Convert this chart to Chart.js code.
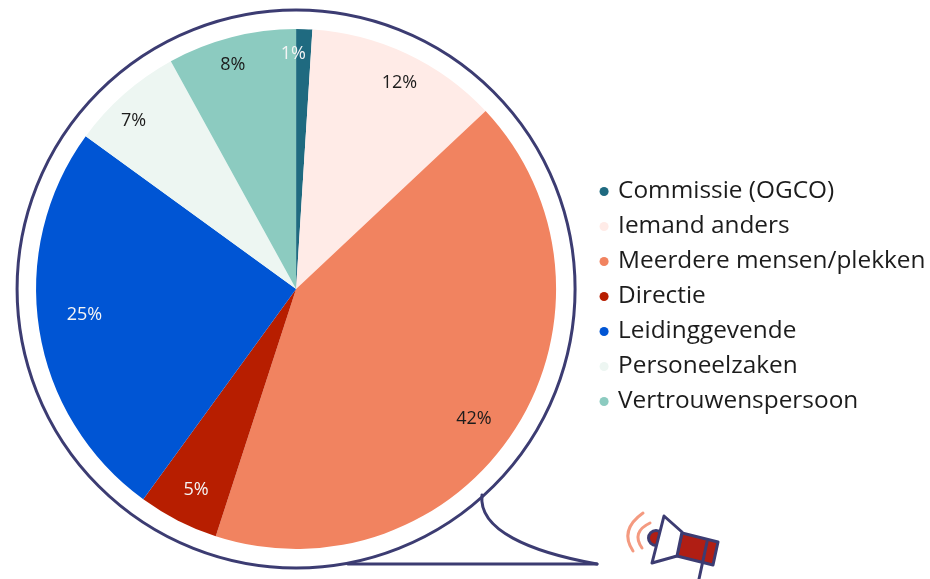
<!DOCTYPE html>
<html>
<head>
<meta charset="utf-8">
<title>Pie chart</title>
<script src="https://cdn.jsdelivr.net/npm/chart.js@4"></script>
<style>
    html, body { margin: 0; padding: 0; background: #fff; }
    canvas { display: block; }
</style>
</head>
<body>
<canvas id="pieChart" width="930" height="579"></canvas>
<script>
const categories = ['Commissie (OGCO)', 'Iemand anders', 'Meerdere mensen/plekken', 'Directie', 'Leidinggevende', 'Personeelzaken', 'Vertrouwenspersoon'];
const percentages = [1, 12, 42, 5, 25, 7, 8];
const sliceColors = ['#1f6a80', '#ffebe7', '#f18360', '#b71e00', '#0055d4', '#edf6f2', '#8ccbc0'];
const labelColors = ['#f4f4f4', '#1c1c1c', '#1c1c1c', '#f4f4f4', '#f4f4f4', '#1c1c1c', '#1c1c1c'];

// labels in the picture don't sit exactly mid slice, so nudge them a bit
const labelRadius = [0.904, 0.888, 0.848, 0.862, 0.82, 0.90, 0.895];
const labelTurn = [-2.5, 1.4, 3.8, -0.5, 2, -2.6, -1.4];

const NAVY = '#3c3c72';
const FONT = '"Open Sans", sans-serif';

const pieLabels = {
    id: 'pieLabels',
    afterDatasetsDraw(chart) {
        const ctx = chart.ctx;
        ctx.save();
        ctx.font = '18px ' + FONT;
        ctx.textAlign = 'center';
        ctx.textBaseline = 'middle';
        chart.getDatasetMeta(0).data.forEach((arc, i) => {
            const angle = (arc.startAngle + arc.endAngle) / 2 + labelTurn[i] * Math.PI / 180;
            const r = arc.outerRadius * labelRadius[i];
            ctx.fillStyle = labelColors[i];
            ctx.fillText(percentages[i] + '%', arc.x + Math.cos(angle) * r, arc.y + Math.sin(angle) * r);
        });
        ctx.restore();
    }
};

// outer ring, speech bubble tail and the little megaphone
const bubble = {
    id: 'bubble',
    afterDraw(chart) {
        const ctx = chart.ctx;
        const arc = chart.getDatasetMeta(0).data[0];
        ctx.save();
        ctx.lineCap = 'round';
        ctx.lineJoin = 'round';
        ctx.strokeStyle = NAVY;
        ctx.lineWidth = 3;
        ctx.beginPath();
        ctx.arc(arc.x, arc.y, arc.outerRadius + 19, 0, Math.PI * 2);
        ctx.stroke();

        ctx.beginPath();
        ctx.moveTo(348, 564);
        ctx.lineTo(597, 564);
        ctx.stroke();
        ctx.beginPath();
        ctx.moveTo(482, 495);
        ctx.bezierCurveTo(478, 530, 530, 552, 597, 564);
        ctx.stroke();

        // sound waves
        ctx.strokeStyle = '#f49a80';
        ctx.beginPath();
        ctx.moveTo(643, 513);
        ctx.quadraticCurveTo(619, 530, 633, 551);
        ctx.stroke();
        ctx.beginPath();
        ctx.moveTo(650, 523);
        ctx.quadraticCurveTo(631, 532, 642, 548);
        ctx.stroke();

        // megaphone
        ctx.strokeStyle = NAVY;
        ctx.fillStyle = '#b01e14';
        ctx.beginPath();
        ctx.arc(656, 538, 7.5, 0, Math.PI * 2);
        ctx.fill();
        ctx.stroke();
        ctx.beginPath();
        ctx.moveTo(682, 533);
        ctx.lineTo(718, 542);
        ctx.lineTo(713, 565);
        ctx.lineTo(677, 556);
        ctx.closePath();
        ctx.fill();
        ctx.stroke();
        ctx.fillStyle = '#fff';
        ctx.beginPath();
        ctx.moveTo(664, 516);
        ctx.lineTo(682, 532);
        ctx.lineTo(677, 556);
        ctx.lineTo(652, 563);
        ctx.closePath();
        ctx.fill();
        ctx.stroke();
        ctx.beginPath();
        ctx.moveTo(707, 542);
        ctx.lineTo(699, 579);
        ctx.stroke();
        ctx.restore();
    }
};

// legend sits a bit lower and further right than the layout would put it
const legendShift = {
    id: 'legendShift',
    afterLayout(chart) {
        chart.legend.top += 7.5;
        chart.legend.bottom += 7.5;
        chart.legend.left += 5.5;
        chart.legend.right += 5.5;
    }
};

new Chart(document.getElementById('pieChart'), {
    type: 'pie',
    data: {
        labels: categories,
        datasets: [{
            data: percentages,
            backgroundColor: sliceColors,
            borderWidth: 0
        }]
    },
    options: {
        responsive: false,
        animation: false,
        layout: { padding: { left: 6, right: 0, top: 29, bottom: 30 } },
        plugins: {
            tooltip: { enabled: false },
            legend: {
                position: 'right',
                labels: {
                    usePointStyle: true,
                    pointStyle: 'circle',
                    boxWidth: 3.6,
                    boxHeight: 6.4,
                    padding: 10.6,
                    color: '#1c1c1c',
                    font: { family: FONT, size: 24.4 }
                }
            }
        }
    },
    plugins: [pieLabels, bubble, legendShift]
});
</script>
</body>
</html>
